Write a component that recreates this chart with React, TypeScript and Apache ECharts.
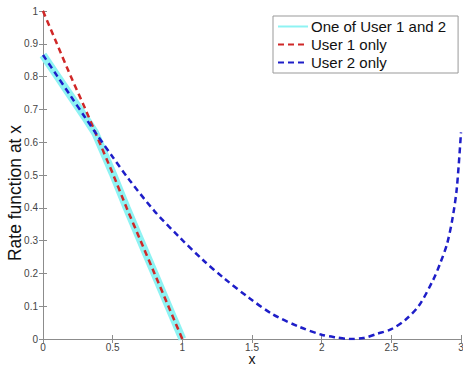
import React, { useEffect, useRef } from "react";
import * as echarts from "echarts";

const seriesNames = ["One of User 1 and 2", "User 1 only", "User 2 only"];

const user1X = [0, 0.1, 0.2, 0.3, 0.38, 0.5, 0.6, 0.7, 0.8, 0.9, 1.0];
const user1Y = [1.0, 0.9, 0.8, 0.705, 0.625, 0.505, 0.4, 0.3, 0.2, 0.1, 0.0];

const user2X = [0, 0.1, 0.2, 0.3, 0.38, 0.5, 0.62, 0.8, 0.98, 1.15, 1.3, 1.48, 1.65, 1.84, 2.0, 2.1, 2.2, 2.3, 2.4, 2.5, 2.6, 2.7, 2.8, 2.85, 2.9, 2.94, 2.97, 3.0];
const user2Y = [0.866, 0.803, 0.74, 0.677, 0.627, 0.555, 0.485, 0.39, 0.31, 0.24, 0.185, 0.125, 0.075, 0.037, 0.013, 0.005, 0.0, 0.003, 0.016, 0.03, 0.058, 0.103, 0.18, 0.23, 0.29, 0.37, 0.46, 0.63];

const oneX = [0, 0.1, 0.2, 0.3, 0.375, 0.5, 0.6, 0.7, 0.8, 0.9, 1.0];
const oneY = [0.866, 0.803, 0.74, 0.677, 0.628, 0.505, 0.4, 0.3, 0.2, 0.1, 0.0];

const xTicks = { min: 0, max: 3, interval: 0.5 };
const yTicks = { min: 0, max: 1, interval: 0.1 };

const pairs = (xs: number[], ys: number[]) => xs.map((x, i) => [x, ys[i]]);

const FONT = '"Liberation Sans", Arial, Helvetica, sans-serif';
const AXIS_COLOR = "#8c8c8c";

export default function App() {
  const ref = useRef<HTMLDivElement>(null);
  useEffect(() => {
    if (!ref.current) return;
    const chart = echarts.init(ref.current, null, { renderer: "svg" });
    const frameAxis = {
      axisLine: { show: true, lineStyle: { color: AXIS_COLOR, width: 1 } },
      axisTick: { show: true, inside: true, length: 4, lineStyle: { color: AXIS_COLOR } },
      splitLine: { show: false },
    };
    chart.setOption({
      animation: false,
      backgroundColor: "#ffffff",
      textStyle: { fontFamily: FONT },
      grid: { left: 43, right: 2, top: 11, bottom: 28, containLabel: false, outerBoundsMode: "none" },
      legend: {
        orient: "vertical",
        left: 273,
        top: 16,
        padding: [3, 12, 3, 4],
        itemGap: 3,
        itemWidth: 30,
        itemHeight: 15,
        backgroundColor: "#ffffff",
        borderColor: "#999999",
        borderWidth: 1,
        borderRadius: 0,
        itemStyle: { opacity: 0, borderWidth: 0 },
        textStyle: { fontFamily: FONT, fontSize: 15, lineHeight: 15, color: "#111111", padding: [0, 0, 0, -2] },
        data: seriesNames,
      },
      xAxis: [
        {
          type: "value",
          position: "bottom",
          ...xTicks,
          ...frameAxis,
          axisLabel: { fontFamily: FONT, fontSize: 10, lineHeight: 10, color: "#444444", margin: 3 },
          name: "x",
          nameLocation: "middle",
          nameGap: 15,
          nameMoveOverlap: false,
          nameTextStyle: { fontFamily: FONT, fontSize: 14, lineHeight: 10, color: "#111111" },
        },
        {
          type: "value",
          position: "top",
          ...xTicks,
          ...frameAxis,
          axisLabel: { show: false },
        },
      ],
      yAxis: [
        {
          type: "value",
          position: "left",
          ...yTicks,
          ...frameAxis,
          axisLabel: { fontFamily: FONT, fontSize: 10, color: "#444444", margin: 5 },
          name: "Rate function at x",
          nameLocation: "middle",
          nameGap: 20,
          nameMoveOverlap: false,
          nameTextStyle: { fontFamily: FONT, fontSize: 17.5, lineHeight: 16, color: "#111111", padding: [0, 36, 0, 0] },
        },
        {
          type: "value",
          position: "right",
          ...yTicks,
          ...frameAxis,
          axisLabel: { show: false },
        },
      ],
      series: [
        {
          name: seriesNames[0],
          type: "line",
          data: pairs(oneX, oneY),
          showSymbol: false,
          symbol: "none",
          lineStyle: { color: "#8ef3f3", width: 8, cap: "butt" },
          itemStyle: { color: "#8ef3f3" },
          z: 2,
        },
        {
          name: seriesNames[1],
          type: "line",
          data: pairs(user1X, user1Y),
          showSymbol: false,
          symbol: "none",
          smooth: 0.2,
          lineStyle: { color: "#d02828", width: 2.5, type: [6, 4] },
          itemStyle: { color: "#d02828" },
          z: 3,
        },
        {
          name: seriesNames[2],
          type: "line",
          data: pairs(user2X, user2Y),
          showSymbol: false,
          symbol: "none",
          smooth: 0.3,
          lineStyle: { color: "#1e1ec8", width: 2.5, type: [6, 4] },
          itemStyle: { color: "#1e1ec8" },
          z: 4,
        },
      ],
    });
    return () => chart.dispose();
  }, []);
  return (
    <div
      ref={ref}
      style={{ position: "fixed", left: 0, top: 0, width: 463, height: 367 }}
    />
  );
}
